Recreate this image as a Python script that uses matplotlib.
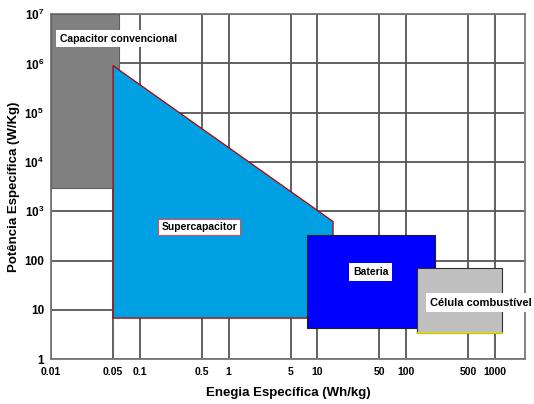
import matplotlib.pyplot as plt
from matplotlib.patches import Rectangle, Polygon

plt.rcParams['font.family'] = ['Liberation Sans', 'DejaVu Sans']
plt.rcParams['mathtext.fontset'] = 'custom'
plt.rcParams['mathtext.rm'] = 'Liberation Sans:bold'
plt.rcParams['mathtext.bf'] = 'Liberation Sans:bold'

# x ticks (Wh/kg) and y ticks (W/kg)
x_ticks = [0.01, 0.05, 0.1, 0.5, 1, 5, 10, 50, 100, 500, 1000]
x_labels = ['0.01', '0.05', '0.1', '0.5', '1', '5', '10', '50', '100', '500', '1000']
y_ticks = [1, 10, 100, 1e3, 1e4, 1e5, 1e6, 1e7]
y_labels = ['1', '10', '100', r'$10^3$', r'$10^4$', r'$10^5$', r'$10^6$', r'$10^7$']

# regions: (x_min, x_max, y_min, y_max)
capacitor = (0.01, 0.058, 3000, 1e7)
bateria = (7.7, 212, 4.3, 330)
celula = (132, 1200, 3.4, 71)
# supercapacitor polygon corners (energy, power)
super_x = [0.05, 0.05, 15, 15]
super_y = [6.8, 9e5, 620, 6.8]

fig = plt.figure(figsize=(5.34, 4.04), dpi=100)
ax = fig.add_axes([0.0955, 0.111, 0.8875, 0.854])
ax.set_xscale('log')
ax.set_yscale('log')
ax.set_xlim(0.01, 2170)
ax.set_ylim(1, 1e7)

ax.set_xticks(x_ticks)
ax.set_xticklabels(x_labels)
ax.set_yticks(y_ticks)
ax.set_yticklabels(y_labels)
ax.minorticks_off()
ax.tick_params(axis='x', length=0, labelsize=7.5, pad=6)
ax.tick_params(axis='y', length=0, labelsize=8.5, pad=5)
for t in ax.get_xticklabels() + ax.get_yticklabels():
    t.set_fontweight('bold')
ax.grid(True, color='#555555', linewidth=1.3)
ax.set_axisbelow(True)
for s in ax.spines.values():
    s.set_color('#777777')
    s.set_linewidth(1.3)

ax.set_xlabel('Enegia Específica (Wh/kg)', fontsize=9.5, fontweight='bold', labelpad=7)
ax.set_ylabel('Potência Específica (W/Kg)', fontsize=9.5, fontweight='bold', labelpad=3)


def rect(r, **kw):
    x0, x1, y0, y1 = r
    ax.add_patch(Rectangle((x0, y0), x1 - x0, y1 - y0, zorder=3, **kw))


rect(capacitor, facecolor='#808080', edgecolor='#606060', linewidth=0.8)
ax.add_patch(Polygon(list(zip(super_x, super_y)), closed=True, facecolor='#00a0e3',
                     edgecolor='#b00000', linewidth=0.9, zorder=3))
rect(bateria, facecolor='#0000ff', edgecolor='#202020', linewidth=0.8)
rect(celula, facecolor='#c0c0c0', edgecolor='#303030', linewidth=0.8)
ax.plot([celula[0], celula[1]], [celula[2], celula[2]], color='#e8e000', linewidth=1.2, zorder=4)

box = dict(boxstyle='square,pad=0.3', facecolor='white', edgecolor='none')
ax.text(0.0125, 3.2e6, 'Capacitor convencional', fontsize=7.5, fontweight='bold',
        va='center', ha='left', bbox=box, zorder=5)
ax.text(0.47, 480, 'Supercapacitor', fontsize=7.5, fontweight='bold', va='center', ha='center',
        bbox=dict(boxstyle='square,pad=0.3', facecolor='white', edgecolor='#e05050', linewidth=0.8),
        zorder=5)
ax.text(40, 59, 'Bateria', fontsize=7.5, fontweight='bold', va='center', ha='center',
        bbox=dict(boxstyle='square,pad=0.35', facecolor='white', edgecolor='none'), zorder=5)
ax.text(185, 14, 'Célula combustível', fontsize=8, fontweight='bold', va='center', ha='left',
        bbox=dict(boxstyle='square,pad=0.4', facecolor='white', edgecolor='none'),
        zorder=5, clip_on=False)

fig.savefig('out.png', dpi=100, facecolor='white')
